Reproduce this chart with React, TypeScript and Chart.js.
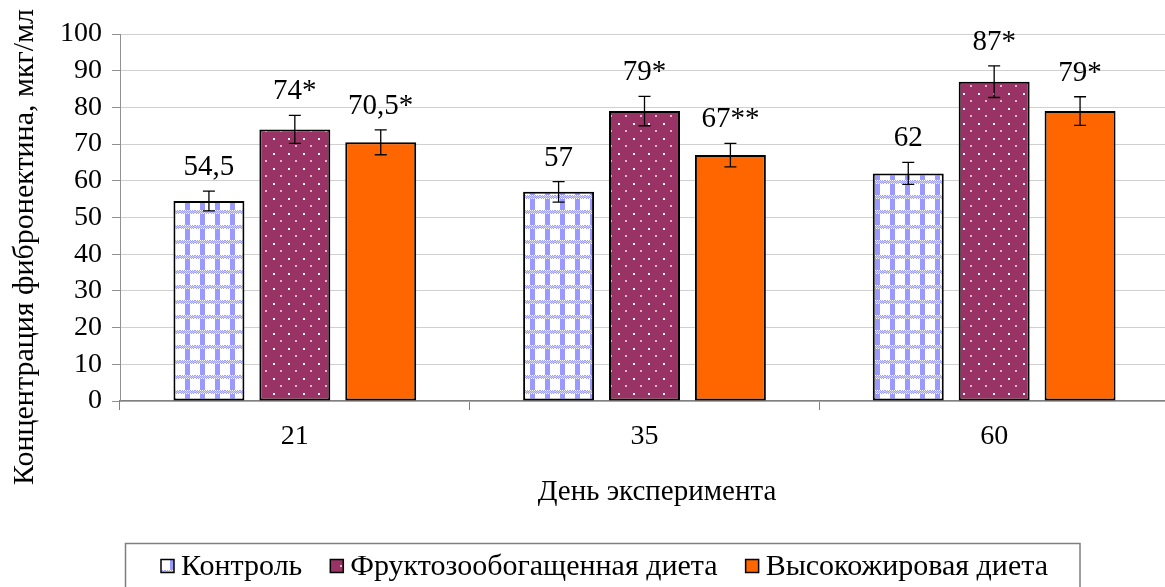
import React, { useEffect, useRef } from 'react';
import { Chart, registerables } from 'chart.js';

Chart.register(...registerables);

const categories = ['21', '35', '60'];
const seriesNames = ['Контроль', 'Фруктозообогащенная диета', 'Высокожировая диета'];
const controlValues = [54.5, 57, 62];
const fructoseValues = [74, 79, 87];
const highFatValues = [70.5, 67, 79];
const controlErrors = [2.7, 2.8, 3.0];
const fructoseErrors = [3.8, 4.0, 4.3];
const highFatErrors = [3.4, 3.2, 3.9];
const controlLabels = ['54,5', '57', '62'];
const fructoseLabels = ['74*', '79*', '87*'];
const highFatLabels = ['70,5*', '67**', '79*'];
const yMin = 0;
const yMax = 100;
const yStep = 10;
const yAxisTitle = 'Концентрация фибронектина, мкг/мл';
const xAxisTitle = 'День эксперимента';

const FONT = "'Liberation Serif', 'Times New Roman', serif";

function makeControlPattern(ctx: CanvasRenderingContext2D) {
  const c = document.createElement('canvas');
  c.width = 15;
  c.height = 15;
  const g = c.getContext('2d')!;
  g.fillStyle = '#ffffff';
  g.fillRect(0, 0, 15, 15);
  g.fillStyle = '#9999ff';
  g.fillRect(5, 4, 5, 11);
  for (let y = 0; y < 4; y++) {
    for (let x = 0; x < 15; x++) {
      const k = (x + y) % 2;
      g.fillStyle = k === 0 ? '#9f9fff' : y === 0 || y === 3 ? '#ffffff' : '#d0d0ff';
      g.fillRect(x, y, 1, 1);
    }
  }
  return ctx.createPattern(c, 'repeat')!;
}

function makeFructosePattern(ctx: CanvasRenderingContext2D) {
  const c = document.createElement('canvas');
  c.width = 15;
  c.height = 15;
  const g = c.getContext('2d')!;
  g.fillStyle = '#993366';
  g.fillRect(0, 0, 15, 15);
  g.fillStyle = '#ffffff';
  g.fillRect(3, 3, 2, 2);
  g.fillStyle = '#e0b3c9';
  g.fillRect(10, 10, 2, 2);
  return ctx.createPattern(c, 'repeat')!;
}

const errorsBySeries = [controlErrors, fructoseErrors, highFatErrors];
const labelsBySeries = [controlLabels, fructoseLabels, highFatLabels];

const errorBarPlugin = {
  id: 'errorBarsLabels',
  afterDatasetsDraw(chart: any) {
    const ctx = chart.ctx as CanvasRenderingContext2D;
    const yScale = chart.scales.y;
    ctx.save();
    chart.data.datasets.forEach((ds: any, i: number) => {
      const meta = chart.getDatasetMeta(i);
      meta.data.forEach((bar: any, j: number) => {
        const v = ds.data[j];
        const e = errorsBySeries[i][j];
        const yTop = yScale.getPixelForValue(v + e);
        const yBot = yScale.getPixelForValue(v - e);
        const x = bar.x;
        ctx.strokeStyle = '#000';
        ctx.lineWidth = 1.3;
        ctx.beginPath();
        ctx.moveTo(x, yTop);
        ctx.lineTo(x, yBot);
        ctx.moveTo(x - 6, yTop);
        ctx.lineTo(x + 6, yTop);
        ctx.moveTo(x - 6, yBot);
        ctx.lineTo(x + 6, yBot);
        ctx.stroke();
        ctx.fillStyle = '#000';
        ctx.font = `29px ${FONT}`;
        ctx.textAlign = 'center';
        ctx.textBaseline = 'alphabetic';
        ctx.fillText(labelsBySeries[i][j], x, yTop - 16);
      });
    });
    ctx.restore();
  },
};

const axisTitlesPlugin = {
  id: 'axisTitles',
  afterDraw(chart: any) {
    const ctx = chart.ctx as CanvasRenderingContext2D;
    ctx.save();
    ctx.fillStyle = '#000';
    ctx.textAlign = 'center';
    ctx.textBaseline = 'middle';
    ctx.font = `29px ${FONT}`;
    ctx.fillText(xAxisTitle, 657, 492);
    ctx.translate(25, 247);
    ctx.rotate(-Math.PI / 2);
    ctx.font = `30px ${FONT}`;
    ctx.fillText(yAxisTitle, 0, 0);
    ctx.restore();
  },
};

const legendBoxPlugin = {
  id: 'legendBox',
  afterDraw(chart: any) {
    const ctx = chart.ctx as CanvasRenderingContext2D;
    ctx.save();
    ctx.font = `30px ${FONT}`;
    ctx.textBaseline = 'middle';
    ctx.textAlign = 'left';
    let x = 161;
    const iconSize = 13;
    const cy = 566;
    let end = x;
    chart.data.datasets.forEach((ds: any) => {
      ctx.fillStyle = ds.backgroundColor;
      ctx.fillRect(x, cy - iconSize / 2, iconSize, iconSize);
      ctx.strokeStyle = '#000';
      ctx.lineWidth = 1.5;
      ctx.strokeRect(x, cy - iconSize / 2, iconSize, iconSize);
      ctx.fillStyle = '#000';
      const tx = x + iconSize + 7;
      ctx.fillText(ds.label, tx, cy + 1);
      end = tx + ctx.measureText(ds.label).width;
      x = end + 28;
    });
    ctx.strokeStyle = '#7f7f7f';
    ctx.lineWidth = 1.5;
    ctx.strokeRect(125.5, 543.5, end + 32 - 125.5, 52);
    ctx.restore();
  },
};

export default function App() {
  const ref = useRef<HTMLCanvasElement | null>(null);
  useEffect(() => {
    document.body.style.margin = '0';
    document.body.style.overflow = 'hidden';
    const canvas = ref.current!;
    const ctx = canvas.getContext('2d')!;
    const colors = [makeControlPattern(ctx), makeFructosePattern(ctx), '#ff6600'];
    const seriesValues = [controlValues, fructoseValues, highFatValues];
    const chart = new Chart(canvas, {
      type: 'bar',
      data: {
        labels: categories,
        datasets: seriesNames.map((name, i) => ({
          label: name,
          data: seriesValues[i],
          backgroundColor: colors[i] as any,
          borderColor: '#000000',
          borderWidth: 2,
          borderSkipped: false,
          categoryPercentage: 0.737,
          barPercentage: 0.826,
        })),
      },
      options: {
        responsive: false,
        animation: false,
        layout: { padding: { top: 34, right: 1, bottom: 91, left: 0 } },
        plugins: {
          legend: { display: false },
          tooltip: { enabled: false },
        },
        scales: {
          x: {
            offset: true,
            grid: {
              display: true,
              drawOnChartArea: false,
              drawTicks: true,
              tickLength: 9,
              tickColor: '#808080',
              offset: true,
            },
            border: { display: true, color: '#808080', width: 1.5 },
            ticks: { font: { family: FONT, size: 28 }, color: '#000', padding: 10 },
            title: { display: false },
            afterFit(scale: any) {
              scale.height = 108;
            },
          },
          y: {
            min: yMin,
            max: yMax,
            ticks: { stepSize: yStep, font: { family: FONT, size: 28 }, color: '#000', padding: 10 },
            grid: { color: '#d0d0d0', lineWidth: 1, tickColor: '#909090', tickLength: 8 },
            border: { display: true, color: '#909090', width: 1 },
            title: { display: false },
            afterFit(scale: any) {
              scale.width = 120;
            },
          },
        },
      },
      plugins: [errorBarPlugin, axisTitlesPlugin, legendBoxPlugin],
    });
    return () => chart.destroy();
  }, []);
  return (
    <div style={{ position: 'absolute', left: 0, top: 0 }}>
      <canvas ref={ref} width={1170} height={600} style={{ display: 'block' }} />
    </div>
  );
}
